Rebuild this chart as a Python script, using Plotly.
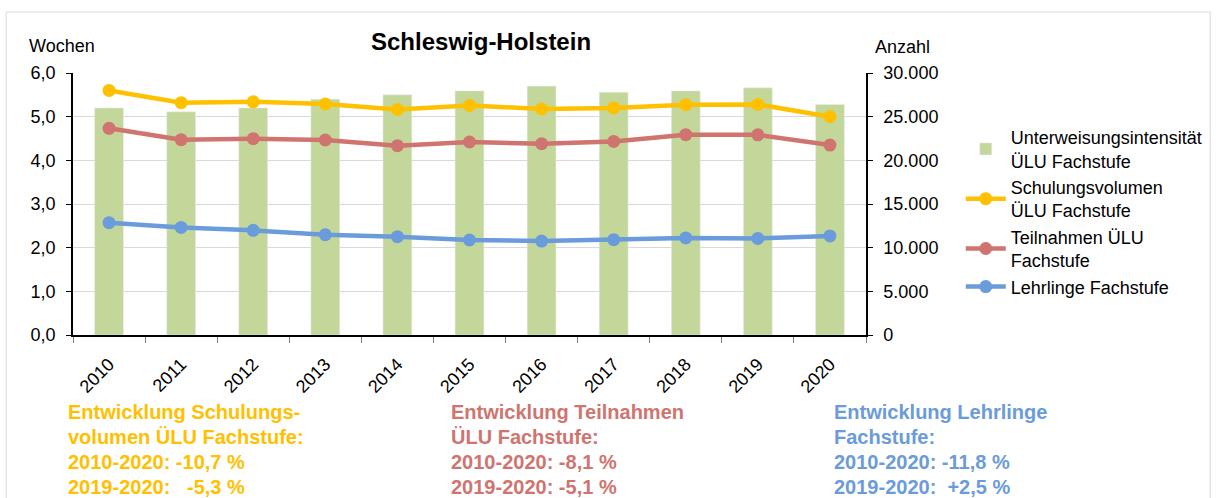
import plotly.graph_objects as go

years = ["2010", "2011", "2012", "2013", "2014", "2015", "2016", "2017", "2018", "2019", "2020"]
intensitaet = [5.20, 5.11, 5.20, 5.40, 5.50, 5.59, 5.70, 5.56, 5.59, 5.66, 5.28]
schulungsvolumen = [28000, 26600, 26700, 26450, 25830, 26290, 25880, 26000, 26370, 26400, 25000]
teilnahmen = [23670, 22360, 22480, 22330, 21680, 22100, 21900, 22170, 22940, 22920, 21750]
lehrlinge = [12860, 12320, 11980, 11490, 11260, 10880, 10760, 10910, 11110, 11060, 11340]

names = ["Unterweisungsintensität<br>ÜLU Fachstufe", "Schulungsvolumen<br>ÜLU Fachstufe",
         "Teilnahmen ÜLU<br>Fachstufe", "Lehrlinge Fachstufe"]
colors = ["#C4D79B", "#FFC000", "#D0746F", "#6A9BDB"]

notes_cols = [
    ["Entwicklung Schulungs-", "volumen ÜLU Fachstufe:", "2010-2020: -10,7 %", "2019-2020:\u00a0\u00a0\u00a0-5,3 %"],
    ["Entwicklung Teilnahmen", "ÜLU Fachstufe:", "2010-2020: -8,1 %", "2019-2020: -5,1 %"],
    ["Entwicklung Lehrlinge", "Fachstufe:", "2010-2020: -11,8 %", "2019-2020:\u00a0\u00a0+2,5 %"],
]
notes_colors = ["#FFC000", "#D0746F", "#6A9BDB"]

FONT = "Liberation Sans, Arial, sans-serif"
W, H = 1220, 498
L, R, T, B = 73, 868, 73, 335
pw, ph = R - L, B - T

def px(x):
    return (x - L) / pw

def py(y):
    return (B - y) / ph

fig = go.Figure()
fig.add_trace(go.Bar(x=years, y=intensitaet, name=names[0], marker=dict(color=colors[0]), yaxis="y"))
for vals, nm, c in zip([schulungsvolumen, teilnahmen, lehrlinge], names[1:], colors[1:]):
    fig.add_trace(go.Scatter(x=years, y=vals, name=nm, yaxis="y2", mode="lines+markers",
                             line=dict(color=c, width=4.5), marker=dict(color=c, size=13)))

annotations = [
    dict(text="<b>Schleswig-Holstein</b>", x=px(482), y=py(42), xref="paper", yref="paper",
         showarrow=False, font=dict(size=24, color="black", family=FONT), xanchor="center", yanchor="middle"),
    dict(text="Wochen", x=px(27), y=py(46), xref="paper", yref="paper", showarrow=False,
         font=dict(size=18, color="black", family=FONT), xanchor="left", yanchor="middle"),
    dict(text="Anzahl", x=px(875), y=py(47), xref="paper", yref="paper", showarrow=False,
         font=dict(size=18, color="black", family=FONT), xanchor="left", yanchor="middle"),
]
col_x = [66, 450, 834]
line_y = [412, 437, 462, 487]
for cx, lines, col in zip(col_x, notes_cols, notes_colors):
    for ly, txt in zip(line_y, lines):
        annotations.append(dict(text="<b>" + txt + "</b>", x=px(cx), y=py(ly), xref="paper", yref="paper",
                                showarrow=False, xanchor="left", yanchor="middle",
                                font=dict(size=20, color=col, family=FONT)))

fig.update_layout(
    width=W, height=H,
    margin=dict(l=L, r=W - R, t=T, b=H - B, pad=0),
    paper_bgcolor="white", plot_bgcolor="white",
    separators=",.",
    font=dict(family=FONT, size=18, color="black"),
    bargap=0.6,
    showlegend=True,
    legend=dict(x=px(963), y=py(119), xanchor="left", yanchor="top", font=dict(size=18, family=FONT),
                bgcolor="rgba(0,0,0,0)", itemwidth=40),
    xaxis=dict(type="category", range=[-0.5, 10.5], showline=True, linecolor="black", linewidth=1.5,
               ticks="outside", tickson="boundaries", ticklen=6, tickcolor="#808080",
               tickangle=-45, tickfont=dict(size=18), showgrid=False,
               ticklabelshift=0, ticklabelstandoff=10),
    yaxis=dict(range=[0, 6], dtick=1, tickformat=".1f", showline=True, linecolor="black", linewidth=1.5,
               ticks="outside", ticklen=5, tickcolor="black", gridcolor="#D9D9D9", gridwidth=1,
               tickfont=dict(size=18), zeroline=False, ticklabelstandoff=7),
    yaxis2=dict(range=[0, 30000], dtick=5000, tickformat=",d", overlaying="y", side="right",
                showline=True, linecolor="black", linewidth=1.5, ticks="outside", ticklen=5,
                tickcolor="black", showgrid=False, tickfont=dict(size=18), zeroline=False,
                ticklabelstandoff=7),
    annotations=annotations,
    shapes=[dict(type="rect", xref="paper", yref="paper", x0=px(6), x1=px(1213), y0=py(520), y1=py(12),
                 line=dict(color="#D9D9D9", width=1), fillcolor="rgba(0,0,0,0)", layer="below")],
)

fig.write_html("out.html", config={"displayModeBar": False})

with open("out.html", "r", encoding="utf-8") as f:
    html = f.read()
html = html.replace("<head>", "<head><style>html,body{margin:0;padding:0;overflow:hidden;}</style>", 1)
with open("out.html", "w", encoding="utf-8") as f:
    f.write(html)
